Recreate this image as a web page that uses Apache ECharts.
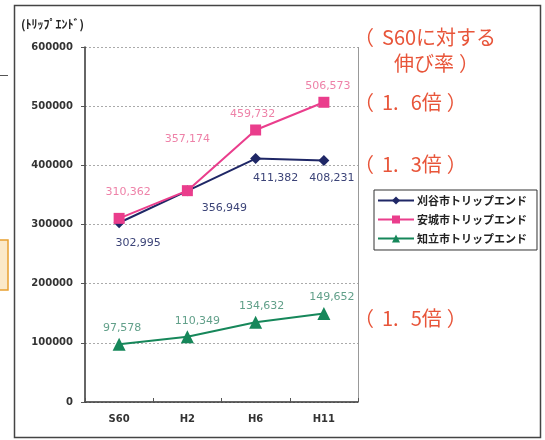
<!DOCTYPE html>
<html>
<head>
<meta charset="utf-8">
<script src="https://cdn.jsdelivr.net/npm/echarts@6/dist/echarts.min.js"></script>
<style>
  html, body { margin: 0; padding: 0; background: #ffffff; }
  #chart { width: 545px; height: 440px; }
</style>
</head>
<body>
<div id="chart"></div>
<script>
// Trip ends per city by survey year
const categories = ['S60', 'H2', 'H6', 'H11'];
const kariya = [302995, 356949, 411382, 408231];
const anjo = [310362, 357174, 459732, 506573];
const chiryu = [97578, 110349, 134632, 149652];
const seriesNames = ['刈谷市トリップエンド', '安城市トリップエンド', '知立市トリップエンド'];
const unitLabel = '(ﾄﾘｯﾌﾟｴﾝﾄﾞ)';
const growthTitle = ['S60に対する', '伸び率'];
// growth ratios: [integer part with point, decimal digit + 倍]
const growthNotes = [['1.', '6倍'], ['1.', '3倍'], ['1.', '5倍']];

const JP = '"Noto Sans CJK JP", "Liberation Sans", sans-serif';
const NUM = '"DejaVu Sans", "Liberation Sans", sans-serif';
const fmt = v => v.toLocaleString('en-US');
const NOTE = '#e8553a';

const chart = echarts.init(document.getElementById('chart'), null, { renderer: 'canvas' });

function labelled(values, baseLabel, offsets) {
  return values.map((v, i) => ({
    value: v,
    label: Object.assign({}, baseLabel, { offset: offsets[i] || [0, 0] })
  }));
}

// Note text with wide full-width brackets around it
const NOTE_SIZE = 20;
const noteRich = {
  l: { fontFamily: JP, fontSize: NOTE_SIZE, fill: NOTE, padding: [0, 8, 0, 0] },
  r: { fontFamily: JP, fontSize: NOTE_SIZE, fill: NOTE, padding: [0, 0, 0, 5] },
  t: { fontFamily: JP, fontSize: NOTE_SIZE, fill: NOTE },
  s: { fontFamily: JP, fontSize: NOTE_SIZE, fill: NOTE, padding: [0, 0, 0, 12] }
};
function note(left, top, text) {
  return { type: 'text', left, top, silent: true, style: { text, rich: noteRich } };
}

const option = {
  backgroundColor: '#ffffff',
  animation: false,
  textStyle: { fontFamily: NUM },
  grid: { left: 85, right: 187, top: 47, bottom: 38, show: false },
  legend: {
    orient: 'vertical',
    left: 374,
    top: 190,
    itemWidth: 36,
    itemHeight: 10,
    itemGap: 8,
    padding: [5, 10, 6, 3],
    borderColor: '#333',
    borderWidth: 1,
    backgroundColor: '#fff',
    textStyle: { fontFamily: JP, fontSize: 11, fontWeight: 'bold', color: '#222', padding: [0, 0, 0, -2] },
    data: seriesNames
  },
  xAxis: {
    type: 'category',
    data: categories,
    boundaryGap: true,
    axisLine: { lineStyle: { color: '#333', width: 1.5 } },
    axisTick: { show: true, inside: true, length: 4, lineStyle: { color: '#555' } },
    axisLabel: { fontFamily: NUM, fontSize: 10, fontWeight: 'bold', color: '#333', margin: 12 }
  },
  yAxis: {
    type: 'value',
    min: 0,
    max: 600000,
    interval: 100000,
    axisLine: { show: true, lineStyle: { color: '#333', width: 1.5 } },
    axisTick: { show: true, inside: false, length: 4, lineStyle: { color: '#555' } },
    axisLabel: { fontFamily: NUM, fontSize: 10, fontWeight: 'bold', color: '#333', margin: 12, formatter: v => String(v) },
    splitLine: { show: true, lineStyle: { color: '#aaa', type: [2, 2], width: 1 } }
  },
  graphic: [
    // outer frame
    { type: 'rect', shape: { x: 14.5, y: 5.5, width: 526, height: 432 }, style: { fill: 'none', stroke: '#444', lineWidth: 1.5 }, silent: true, z: -1 },
    // right border of the plot area
    { type: 'line', shape: { x1: 358.5, y1: 47, x2: 358.5, y2: 402 }, style: { stroke: '#999', lineWidth: 1 }, silent: true },
    // marks at the left margin
    { type: 'line', shape: { x1: 0, y1: 75.5, x2: 8, y2: 75.5 }, style: { stroke: '#555', lineWidth: 1 }, silent: true },
    { type: 'rect', shape: { x: -6, y: 240, width: 14, height: 50 }, style: { fill: '#fbe9c8', stroke: '#e8a030', lineWidth: 1.5 }, silent: true },
    // unit of the value axis
    { type: 'text', left: 21, top: 18, style: { text: unitLabel, font: 'bold 12px ' + JP, fill: '#222' }, silent: true },
    // growth-rate notes
    note(354, 27, '{l|（}{t|' + growthTitle[0] + '}'),
    note(394, 53, '{t|' + growthTitle[1] + '}{r|）}'),
    note(354, 92, '{l|（}{t|' + growthNotes[0][0] + '}{s|' + growthNotes[0][1] + '}{r|）}'),
    note(354, 154, '{l|（}{t|' + growthNotes[1][0] + '}{s|' + growthNotes[1][1] + '}{r|）}'),
    note(354, 308, '{l|（}{t|' + growthNotes[2][0] + '}{s|' + growthNotes[2][1] + '}{r|）}')
  ],
  series: [
    {
      name: seriesNames[0],
      type: 'line',
      symbol: 'diamond',
      symbolSize: 11,
      z: 3,
      itemStyle: { color: '#1f2766' },
      lineStyle: { color: '#1f2766', width: 2 },
      data: labelled(kariya, {
        show: true, position: 'bottom', distance: 9, formatter: p => fmt(p.value),
        fontFamily: NUM, fontSize: 11, color: '#3c4478'
      }, [[19, 0], [37, -3], [20, 0], [8, -2]])
    },
    {
      name: seriesNames[1],
      type: 'line',
      symbol: 'rect',
      symbolSize: 11,
      z: 4,
      itemStyle: { color: '#ea3d8c' },
      lineStyle: { color: '#ea3d8c', width: 2 },
      data: labelled(anjo, {
        show: true, position: 'top', distance: 10, formatter: p => fmt(p.value),
        fontFamily: NUM, fontSize: 11, color: '#ee82a8'
      }, [[9, -5], [0, -31], [-3, 5], [4, 5]])
    },
    {
      name: seriesNames[2],
      type: 'line',
      symbol: 'triangle',
      symbolSize: 13,
      z: 3,
      itemStyle: { color: '#16875a' },
      lineStyle: { color: '#16875a', width: 2 },
      data: labelled(chiryu, {
        show: true, position: 'top', distance: 4, formatter: p => fmt(p.value),
        fontFamily: NUM, fontSize: 11, color: '#62a08a'
      }, [[3, 0], [10, 0], [6, 0], [8, 0]])
    }
  ]
};

chart.setOption(option);
</script>
</body>
</html>
